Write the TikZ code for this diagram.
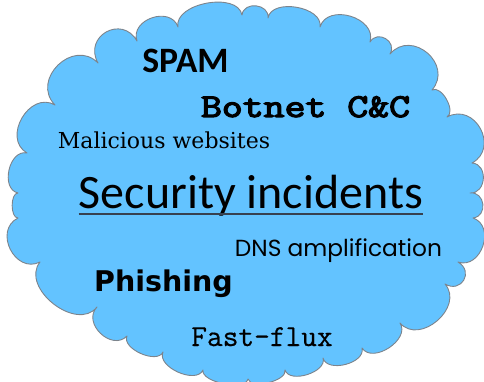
\documentclass[tikz,border=0pt]{standalone}
\usepackage{fontspec}
\newfontfamily\calibrifont{Carlito}
\newfontfamily\heavyfont{DejaVu Sans}
\newfontfamily\comicfont{Poppins}
\newfontfamily\bookfont{DejaVu Serif}
\newfontfamily\typebold[FakeBold=3.5]{Latin Modern Mono}
\newfontfamily\typeplain[FakeBold=0.6]{Latin Modern Mono}
\definecolor{cloudfill}{RGB}{99,195,255}
\definecolor{cloudline}{RGB}{125,132,140}
\definecolor{rulecol}{RGB}{55,65,80}
\tikzset{
  lobe/.style={bend left=90, looseness=#1},
  cloudshape/.style={fill=cloudfill, draw=cloudline, line width=0.9pt, line join=round},
  label/.style={inner sep=0pt, anchor=base, text=black},
}
\begin{document}
\begin{tikzpicture}[x=1pt, y=-1pt]
\useasboundingbox (0,0) rectangle (484,382);

% cusps between the lobes of the cloud, clockwise from the lower left
\coordinate (c1)  at (40,262);
\coordinate (c2)  at (18,218);
\coordinate (c3)  at (18,193);
\coordinate (c4)  at (27,153);
\coordinate (c5)  at (55,105);
\coordinate (c6)  at (98,63);
\coordinate (c7)  at (137,41);
\coordinate (c8)  at (178,27);
\coordinate (c9)  at (242,15);
\coordinate (c10) at (268,18);
\coordinate (c11) at (320,27);
\coordinate (c12) at (370,42);
\coordinate (c13) at (390,54);
\coordinate (c14) at (432,90);
\coordinate (c15) at (447,117);
\coordinate (c16) at (472,163);
\coordinate (c17) at (470,193);
\coordinate (c18) at (473,218);
\coordinate (c19) at (458,262);
\coordinate (c20) at (445,284);
\coordinate (c21) at (400,323);
\coordinate (c22) at (362,348);
\coordinate (c23) at (323,358);
\coordinate (c24) at (285,370);
\coordinate (c25) at (248,379);
\coordinate (c26) at (203,370);
\coordinate (c27) at (163,352);
\coordinate (c28) at (127,336);
\coordinate (c29) at (97,307);

\draw[cloudshape]
  (c1) to[lobe=1.45] (c2) to[lobe=0.8] (c3) to[lobe=1.15] (c4)
  to[lobe=1.35] (c5) to[lobe=1.5] (c6) to[lobe=1.75] (c7)
  to[lobe=1.35] (c8) to[lobe=0.95] (c9) to[lobe=1.4] (c10)
  to[lobe=1.0] (c11) to[lobe=1.25] (c12) to[lobe=1.6] (c13)
  to[lobe=1.55] (c14) to[lobe=0.9] (c15) to[lobe=1.55] (c16)
  to[lobe=1.4] (c17) to[lobe=1.55] (c18) to[lobe=1.35] (c19)
  to[lobe=1.9] (c20) to[lobe=1.3] (c21) to[lobe=1.1] (c22)
  to[lobe=1.0] (c23) to[lobe=0.95] (c24) to[lobe=0.75] (c25)
  to[lobe=0.7] (c26) to[lobe=0.95] (c27) to[lobe=0.9] (c28)
  to[lobe=1.35] (c29) to[lobe=1.15] (c1) -- cycle;

% labels
\node[label] (spam) at (185.5,73)
  {\calibrifont\bfseries\fontsize{35.7}{40}\selectfont SPAM};
\node[label] (botnet) at (305.5,117)
  {\scalebox{1}[0.82]{\typebold\fontsize{40.6}{44}\selectfont Botnet C\&C}};
\node[label] (malicious) at (164,149)
  {\bookfont\fontsize{22}{26}\selectfont Malicious websites};
\node[label] (security) at (251,208)
  {\calibrifont\fontsize{48}{52}\selectfont Security incidents};
\draw[rulecol, line width=1.5pt] ([yshift=-6pt]security.base west) -- ([yshift=-6pt]security.base east);
\node[label] (dns) at (338.5,256)
  {\comicfont\fontsize{23.3}{27}\selectfont DNS amplification};
\node[label] (phishing) at (163.5,291)
  {\heavyfont\bfseries\fontsize{28.5}{32}\selectfont Phishing};
\node[label] (fastflux) at (262,346)
  {\typeplain\fontsize{30.5}{34}\selectfont Fast-flux};
\end{tikzpicture}
\end{document}
